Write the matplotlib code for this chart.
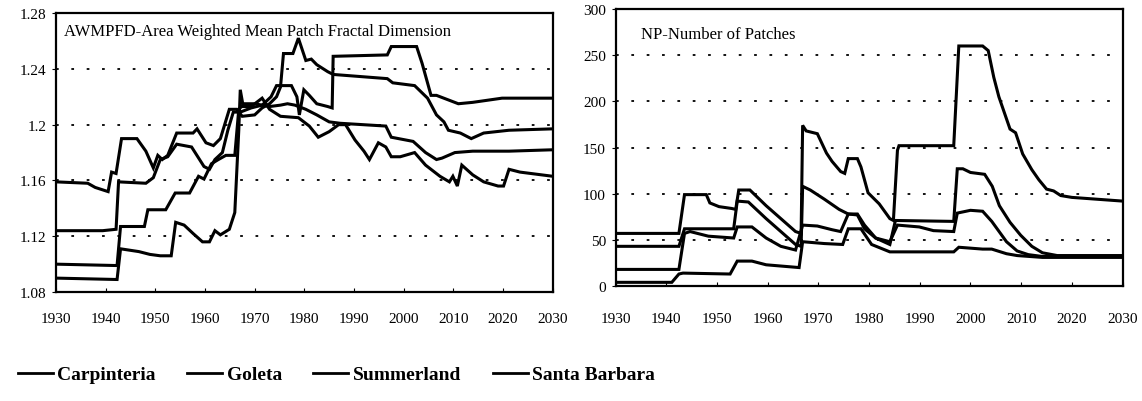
import matplotlib.pyplot as plt
from matplotlib.lines import Line2D

plt.rcParams['font.family'] = ['Liberation Serif', 'DejaVu Serif']

cities = ['Carpinteria', 'Goleta', 'Summerland', 'Santa Barbara']
decades = [1930, 1940, 1950, 1960, 1970, 1980, 1990, 2000, 2010, 2020, 2030]

# AWMPFD - Area Weighted Mean Patch Fractal Dimension
awm_carp_yr = [1930, 1936.4, 1937.9, 1940.5, 1941.2, 1942.1, 1943.2, 1946.3, 1948.1, 1949.6,
               1950.5, 1951.4, 1952.5, 1954.3, 1957.6, 1958.4, 1960.2, 1961.7, 1963.1, 1964.9,
               1966.4, 1967.5, 1970, 1971.5, 1973, 1974.4, 1975.2, 1975.8, 1977.7, 1978.8,
               1980.3, 1981.4, 1982.5, 1984.7, 1985.8, 1996.7, 1997.8, 2002.2, 2004.8, 2006.6,
               2008.1, 2009, 2011.4, 2013.6, 2016.1, 2021.2, 2030]
awm_carp = [1.159, 1.158, 1.155, 1.152, 1.166, 1.165, 1.190, 1.190, 1.181, 1.169,
            1.178, 1.175, 1.178, 1.194, 1.194, 1.197, 1.187, 1.185, 1.190, 1.211,
            1.211, 1.206, 1.207, 1.212, 1.215, 1.220, 1.227, 1.251, 1.251, 1.262,
            1.246, 1.247, 1.243, 1.238, 1.236, 1.233, 1.230, 1.228, 1.219, 1.207,
            1.202, 1.196, 1.194, 1.190, 1.194, 1.196, 1.197]

awm_gole_yr = [1930, 1939.4, 1942.1, 1942.6, 1948.1, 1949.6, 1951, 1952.5, 1954.3, 1957.3,
               1959.8, 1960.9, 1962, 1963.5, 1964.6, 1965.7, 1967.1, 1969.3, 1971.5, 1973.3,
               1974.4, 1977.4, 1978.5, 1979, 1979.9, 1981, 1982.5, 1984.7, 1985.6, 1985.8,
               1996.7, 1997.5, 2002.6, 2003.7, 2005.5, 2006.6, 2011, 2013.9, 2019.8, 2030]
awm_gole = [1.124, 1.124, 1.125, 1.159, 1.158, 1.162, 1.175, 1.177, 1.186, 1.184,
            1.170, 1.168, 1.175, 1.180, 1.196, 1.209, 1.209, 1.212, 1.214, 1.220,
            1.228, 1.228, 1.220, 1.207, 1.225, 1.221, 1.215, 1.213, 1.212, 1.249,
            1.250, 1.256, 1.256, 1.244, 1.221, 1.221, 1.215, 1.216, 1.219, 1.219]

awm_summ_yr = [1930, 1942.3, 1943, 1947.8, 1948.5, 1952.1, 1954, 1956.9, 1958.7, 1959.8,
               1961.3, 1962.7, 1964.2, 1966, 1966.8, 1967.9, 1970, 1971.5, 1973, 1975.2,
               1976.6, 1978.1, 1980.3, 1982.5, 1985, 1987.2, 1996.4, 1997.5, 2001.9, 2004.4,
               2006.6, 2007.7, 2010.3, 2013.9, 2021.2, 2030]
awm_summ = [1.100, 1.099, 1.127, 1.127, 1.139, 1.139, 1.151, 1.151, 1.163, 1.161,
            1.172, 1.175, 1.178, 1.178, 1.211, 1.215, 1.215, 1.214, 1.213, 1.214,
            1.215, 1.214, 1.211, 1.207, 1.202, 1.201, 1.199, 1.191, 1.188, 1.180,
            1.175, 1.176, 1.180, 1.181, 1.181, 1.182]

awm_sb_yr = [1930, 1942.3, 1943, 1946.7, 1948.9, 1951, 1953.2, 1954.1, 1955.8, 1957.6,
             1959.5, 1960.9, 1962, 1963.1, 1964.9, 1966, 1966.8, 1967.1, 1967.7, 1969.3,
             1970.4, 1971.5, 1973, 1975.2, 1978.8, 1981, 1982.8, 1985, 1986.9, 1988.3,
             1990.2, 1992, 1993.1, 1994.9, 1996.4, 1997.5, 1999.3, 2002.2, 2004.4, 2007.3,
             2009.2, 2009.9, 2010.8, 2011.7, 2013.9, 2016.1, 2019, 2020.1, 2021.2, 2023.4, 2030]
awm_sb = [1.090, 1.089, 1.111, 1.109, 1.107, 1.106, 1.106, 1.130, 1.128, 1.122,
          1.116, 1.116, 1.124, 1.121, 1.125, 1.137, 1.196, 1.225, 1.213, 1.213,
          1.216, 1.219, 1.211, 1.206, 1.205, 1.199, 1.191, 1.195, 1.200, 1.200,
          1.189, 1.181, 1.175, 1.187, 1.184, 1.177, 1.177, 1.180, 1.171, 1.163,
          1.159, 1.163, 1.156, 1.171, 1.164, 1.159, 1.156, 1.156, 1.168, 1.166, 1.163]

# NP - Number of Patches
np_carp_yr = [1930, 1942.5, 1943.6, 1947.9, 1948.6, 1950.4, 1952.9, 1953.7, 1954.3, 1956.5,
              1959.7, 1962.6, 1965.5, 1966.6, 1966.9, 1967.6, 1969.8, 1971.6, 1972.7, 1974.4,
              1975.2, 1975.9, 1977.7, 1978.4, 1979.8, 1982, 1984.1, 1984.8, 1985.6, 1985.9,
              1996.7, 1997.7, 2002.4, 2003.5, 2004.6, 2005.6, 2007.8, 2008.9, 2010.3, 2012.1,
              2013.5, 2015, 2016.4, 2017.8, 2020, 2025, 2030]
np_carp = [57, 57, 99, 99, 90, 86, 84, 83, 104, 104,
           87, 73, 59, 57, 174, 168, 165, 144, 135, 124,
           122, 138, 138, 129, 101, 89, 73, 71, 147, 152,
           152, 260, 260, 255, 226, 205, 170, 166, 143, 126,
           115, 105, 103, 98, 96, 94, 92]

np_gole_yr = [1930, 1942.5, 1943.6, 1953.3, 1954, 1956.2, 1959.7, 1962.6, 1965.5, 1966.6,
              1966.9, 1968.4, 1971.2, 1974.1, 1975.9, 1977.7, 1979.1, 1981.3, 1984.1, 1985.2,
              1996.7, 1997.4, 1998.5, 2000, 2002.8, 2004.3, 2005.7, 2007.8, 2009.9, 2012.1,
              2014.2, 2017.1, 2030]
np_gole = [43, 43, 62, 62, 92, 91, 73, 59, 45, 43,
           108, 104, 94, 83, 78, 78, 66, 52, 45, 71,
           70, 127, 127, 123, 121, 108, 87, 69, 55, 43,
           36, 33, 33]

np_summ_yr = [1930, 1942.5, 1943.6, 1944.7, 1948.3, 1953.3, 1954, 1956.9, 1959.7, 1962.6,
              1965.5, 1966.9, 1969.8, 1972.7, 1974.4, 1975.9, 1977.7, 1979.1, 1981.3, 1984.1,
              1985.6, 1989.9, 1992.7, 1996.7, 1997.4, 2000, 2002.4, 2004.2, 2007.1, 2009.2,
              2011.4, 2014.2, 2030]
np_summ = [18, 18, 57, 59, 54, 52, 64, 64, 52, 43,
           39, 66, 65, 61, 59, 78, 77, 62, 52, 48,
           66, 64, 60, 59, 79, 82, 81, 70, 48, 38,
           34, 32, 32]

np_sb_yr = [1930, 1941.1, 1942.5, 1943.3, 1952.6, 1954, 1956.9, 1959.7, 1966.2, 1966.9,
            1971.2, 1974.8, 1975.9, 1978.4, 1980.5, 1984.1, 1996.7, 1997.7, 2002.4, 2004.2,
            2007.1, 2009.2, 2014.2, 2030]
np_sb = [4, 4, 13, 14, 13, 27, 27, 23, 20, 48,
         46, 45, 62, 62, 45, 37, 37, 42, 40, 40,
         35, 33, 31, 31]

fig = plt.figure(figsize=(11.42, 4.02), dpi=100)
ax1 = fig.add_axes([0.049, 0.271, 0.435, 0.694])
ax2 = fig.add_axes([0.539, 0.286, 0.444, 0.689])

for yr, v in [(awm_carp_yr, awm_carp), (awm_gole_yr, awm_gole),
              (awm_summ_yr, awm_summ), (awm_sb_yr, awm_sb)]:
    ax1.plot(yr, v, color='black', lw=2.2, solid_joinstyle='miter')
for yr, v in [(np_carp_yr, np_carp), (np_gole_yr, np_gole),
              (np_summ_yr, np_summ), (np_sb_yr, np_sb)]:
    ax2.plot(yr, v, color='black', lw=2.2, solid_joinstyle='miter')

ax1.set_ylim(1.08, 1.28)
ax1.set_yticks([1.08, 1.12, 1.16, 1.2, 1.24, 1.28])
ax1.set_yticklabels(['1.08', '1.12', '1.16', '1.2', '1.24', '1.28'])
ax2.set_ylim(0, 300)
ax2.set_yticks([0, 50, 100, 150, 200, 250, 300])

for ax, grid_vals, title, tx, ty, pad in [
        (ax1, [1.12, 1.16, 1.2, 1.24], 'AWMPFD-Area Weighted Mean Patch Fractal Dimension', 0.016, 0.965, 14),
        (ax2, [50, 100, 150, 200, 250], 'NP-Number of Patches', 0.05, 0.94, 19)]:
    ax.set_xlim(1930, 2030)
    ax.set_xticks(decades)
    ax.tick_params(axis='x', direction='in', length=3, pad=pad, labelsize=11)
    ax.tick_params(axis='y', direction='out', length=3, pad=4, labelsize=11)
    for g in grid_vals:
        ax.axhline(g, color='black', lw=1.3, linestyle=(0, (1.5, 7)), zorder=0)
    for s in ax.spines.values():
        s.set_linewidth(1.6)
    ax.text(tx, ty, title, transform=ax.transAxes, ha='left', va='top', fontsize=12)

handles = [Line2D([], [], color='black', lw=2) for _ in cities]
fig.legend(handles, cities, loc='lower left', bbox_to_anchor=(0.0, 0.0), ncol=4,
           frameon=False, handlelength=1.8, handletextpad=0.25, columnspacing=1.6,
           prop={'weight': 'bold', 'size': 14})

fig.savefig('out.png', dpi=100)
